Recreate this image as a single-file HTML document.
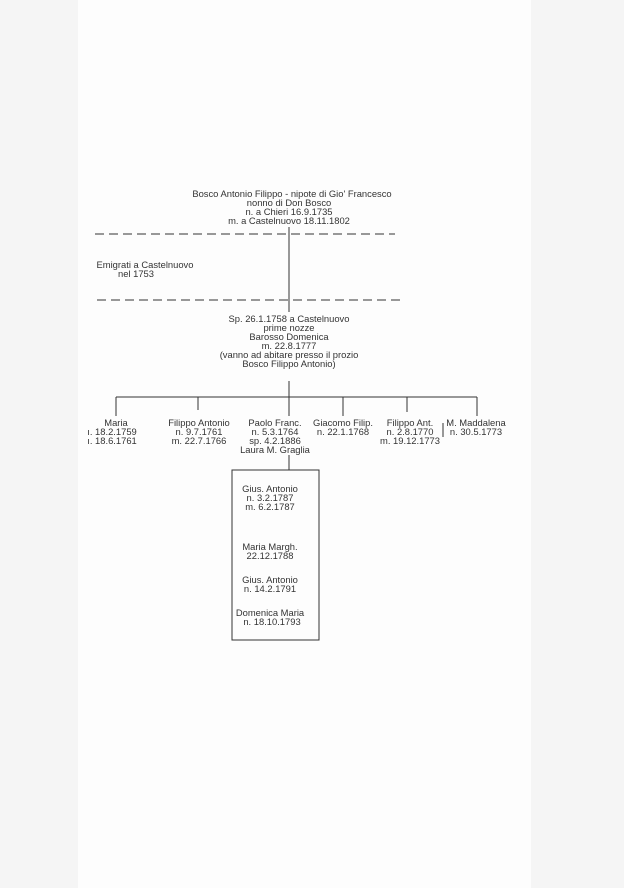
<!DOCTYPE html>
<html><head><meta charset="utf-8"><style>
body{margin:0;width:624px;height:888px;background:#fdfdfd;overflow:hidden}
svg{display:block}
text{font-family:"Liberation Sans",sans-serif;font-size:9.4px;fill:#333;text-anchor:middle}
</style></head><body>
<svg width="624" height="888" viewBox="0 0 624 888">
<rect x="0" y="0" width="78" height="888" fill="#f5f5f5"/>
<rect x="531" y="0" width="93" height="888" fill="#f5f5f5"/>
<g stroke="#333" stroke-width="1" fill="none">
<line x1="289" y1="227" x2="289" y2="312"/>
<line x1="289" y1="381" x2="289" y2="398"/>
<line x1="95" y1="234" x2="395" y2="234" stroke-dasharray="9,5"/>
<line x1="97" y1="300" x2="400" y2="300" stroke-dasharray="9,5"/>
<line x1="116" y1="397" x2="477" y2="397"/>
<line x1="116" y1="397" x2="116" y2="416"/>
<line x1="198" y1="397" x2="198" y2="410"/>
<line x1="289" y1="397" x2="289" y2="416"/>
<line x1="343" y1="397" x2="343" y2="416"/>
<line x1="407" y1="397" x2="407" y2="412"/>
<line x1="477" y1="397" x2="477" y2="416"/>
<line x1="443" y1="423" x2="443" y2="437"/>
<line x1="289" y1="455" x2="289" y2="470"/>
<rect x="232" y="470" width="87" height="170"/>
</g>
<text x="292" y="197">Bosco Antonio Filippo - nipote di Gio' Francesco</text>
<text x="289" y="206">nonno di Don Bosco</text>
<text x="289" y="215">n. a Chieri 16.9.1735</text>
<text x="289" y="224">m. a Castelnuovo 18.11.1802</text>
<text x="145" y="268">Emigrati a Castelnuovo</text>
<text x="136" y="277">nel 1753</text>
<text x="289" y="322">Sp. 26.1.1758 a Castelnuovo</text>
<text x="289" y="331">prime nozze</text>
<text x="289" y="340">Barosso Domenica</text>
<text x="289" y="349">m. 22.8.1777</text>
<text x="289" y="358">(vanno ad abitare presso il prozio</text>
<text x="289" y="367">Bosco Filippo Antonio)</text>
<text x="116" y="426">Maria</text>
<text x="112" y="435">ı. 18.2.1759</text>
<text x="112" y="444">ı. 18.6.1761</text>
<text x="199" y="426">Filippo Antonio</text>
<text x="199" y="435">n. 9.7.1761</text>
<text x="199" y="444">m. 22.7.1766</text>
<text x="275" y="426">Paolo Franc.</text>
<text x="275" y="435">n. 5.3.1764</text>
<text x="275" y="444">sp. 4.2.1886</text>
<text x="275" y="453">Laura M. Graglia</text>
<text x="343" y="426">Giacomo Filip.</text>
<text x="343" y="435">n. 22.1.1768</text>
<text x="410" y="426">Filippo Ant.</text>
<text x="410" y="435">n. 2.8.1770</text>
<text x="410" y="444">m. 19.12.1773</text>
<text x="476" y="426">M. Maddalena</text>
<text x="476" y="435">n. 30.5.1773</text>
<text x="270" y="492">Gius. Antonio</text>
<text x="270" y="501">n. 3.2.1787</text>
<text x="270" y="510">m. 6.2.1787</text>
<text x="270" y="550">Maria Margh.</text>
<text x="270" y="559">22.12.1788</text>
<text x="270" y="583">Gius. Antonio</text>
<text x="270" y="592">n. 14.2.1791</text>
<text x="270" y="616">Domenica Maria</text>
<text x="272" y="625">n. 18.10.1793</text>
</svg>
</body></html>
